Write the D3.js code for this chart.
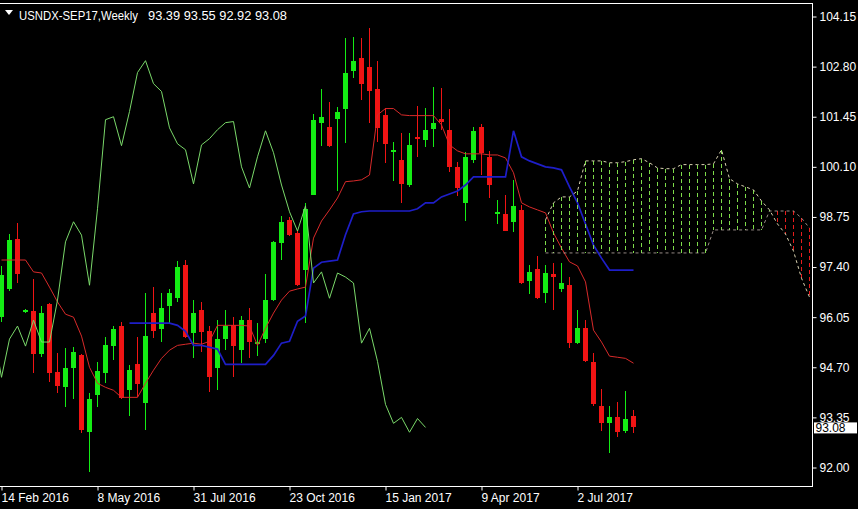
<!DOCTYPE html>
<html><head><meta charset="utf-8">
<script src="https://cdn.jsdelivr.net/npm/d3@7/dist/d3.min.js"></script>
<style>html,body{margin:0;padding:0;background:#000;overflow:hidden}</style>
</head><body><svg id="c" width="858" height="509"></svg>
<script>
// ---------- data ----------
const symbolText = "USNDX-SEP17,Weekly";
const ohlcText = "93.39 93.55 92.92 93.08";
const opens = [96.05,96.81,98.16,96.19,96.21,95.05,96.40,94.57,94.16,94.67,95.02,92.95,93.94,94.54,95.27,95.81,94.08,94.78,93.73,96.16,
  95.73,96.35,96.56,97.45,95.62,96.24,95.67,94.67,95.46,95.83,95.16,95.97,95.32,95.46,96.51,98.05,98.67,98.32,97.32,99.34,
  101.29,101.18,101.40,101.67,102.67,103.02,102.80,102.21,101.50,100.51,100.29,99.61,100.91,100.83,101.13,101.40,101.10,100.10,99.13,100.29,
  101.18,100.37,98.83,98.83,98.62,98.94,97.02,97.35,96.70,97.21,96.81,96.91,95.35,95.75,94.84,93.65,93.19,93.35,92.97,93.39];
const highs = [97.43,98.29,98.59,96.27,97.08,96.35,96.43,95.08,95.21,95.24,95.05,94.00,94.84,95.51,95.81,95.92,94.75,95.51,96.70,96.86,
  96.70,96.81,97.56,97.59,96.51,96.46,95.81,95.97,96.24,96.05,96.08,96.29,95.89,97.21,98.10,98.78,98.75,98.40,99.13,101.53,
  102.21,101.86,101.72,103.56,103.61,103.58,103.83,102.96,101.69,100.78,101.02,101.00,101.75,101.69,102.26,102.23,101.67,100.24,100.51,101.18,
  101.26,100.53,99.21,99.34,99.75,99.07,97.45,97.70,97.45,97.51,97.51,97.13,96.24,95.97,95.08,94.11,93.65,93.76,94.05,93.55];
const lows = [95.92,96.75,96.97,96.16,94.54,94.97,94.30,94.00,93.62,93.84,92.92,91.89,93.62,94.27,94.89,93.84,93.40,93.89,93.00,95.48,
  95.38,95.89,96.46,95.48,94.94,95.11,94.03,94.08,95.16,94.43,94.81,94.94,95.00,95.35,96.48,97.59,98.24,96.89,95.89,99.34,
  100.67,100.64,99.45,100.75,102.50,101.91,101.29,100.78,100.21,99.72,99.13,99.56,100.37,100.64,100.64,101.10,99.97,99.32,98.64,100.21,
  99.88,99.26,98.56,98.37,98.35,96.94,96.67,96.54,96.43,96.24,96.73,95.21,95.32,94.84,93.67,92.97,92.38,92.81,92.92,92.92];
const closes = [97.18,98.13,97.21,96.24,95.05,96.16,94.54,94.19,94.67,95.11,93.00,93.84,94.59,95.29,95.73,93.86,94.62,94.24,95.54,95.67,
  96.29,96.70,97.40,95.51,96.16,95.65,94.43,95.46,95.81,95.27,95.97,95.38,95.38,96.51,98.08,98.62,98.26,96.91,98.97,101.37,
  101.45,100.67,101.59,102.64,102.96,102.34,102.13,101.15,100.72,100.56,99.64,100.69,100.86,101.10,101.29,101.32,100.10,99.53,100.37,101.07,
  100.48,99.61,98.89,98.37,99.05,96.97,97.27,96.56,97.24,97.13,96.97,95.35,95.75,94.86,93.70,93.19,93.35,92.95,93.32,93.08];

// Ichimoku lines
const tenkan = [97.59,97.59,97.59,97.59,97.27,97.24,96.86,96.46,96.13,96.05,95.54,94.70,94.27,94.16,94.08,93.89,93.89,93.89,94.27,94.62,
  94.94,95.16,95.29,95.32,95.35,95.32,95.40,95.83,95.83,95.83,95.83,95.81,95.29,95.75,96.16,96.51,96.75,96.81,96.86,98.18,
  98.64,98.94,99.26,99.70,99.72,99.75,99.88,101.50,101.67,101.67,101.50,101.48,101.48,101.48,101.48,101.23,100.69,100.53,100.45,100.45,
  100.45,100.42,100.42,100.34,99.94,99.13,99.02,98.94,98.86,98.32,97.91,97.54,97.43,97.00,95.70,95.38,95.00,94.97,94.94,94.81];
const kijunStart = 16;
const kijun = [95.89,95.89,95.89,95.89,95.89,95.89,95.83,95.67,95.29,95.29,95.24,95.19,94.78,94.78,94.78,94.78,94.78,94.78,95.02,95.35,
  95.40,95.94,96.08,97.37,97.53,97.56,97.59,98.27,98.83,98.89,98.91,98.91,98.91,98.91,98.91,98.91,98.97,99.13,99.13,99.29,
  99.37,99.45,99.61,99.83,99.83,99.83,99.83,99.83,101.07,100.37,100.26,100.18,100.10,100.07,100.02,99.56,99.13,98.56,97.99,97.64,
  97.32,97.32,97.32,97.32];
const spanStart = 68;
const spanA = [98.67,99.13,99.29,99.29,99.45,100.26,100.26,100.26,100.21,100.21,100.24,100.29,100.32,100.21,100.07,100.05,100.05,100.16,100.16,100.16,
  100.16,100.18,100.56,99.78,99.64,99.56,99.48,99.18,98.94,98.56,98.29,97.83,97.10,96.59];
const spanB = [97.78,97.78,97.78,97.78,97.78,97.78,97.78,97.78,97.78,97.78,97.78,97.78,97.78,97.78,97.78,97.78,97.78,97.78,97.78,97.78,
  97.78,98.40,98.40,98.40,98.40,98.40,98.40,98.40,98.91,98.91,98.91,98.91,98.72,98.45];
const chikouShift = 26;

const dateTickIndex = [0,12,24,36,48,60,72];
const dateTickLabels = ["14 Feb 2016","8 May 2016","31 Jul 2016","23 Oct 2016","15 Jan 2017","9 Apr 2017","2 Jul 2017"];
const priceTicks = [92.00,93.35,94.70,96.05,97.40,98.75,100.10,101.45,102.80,104.15];
const lastPrice = 93.08;

// ---------- chart ----------
const svg = d3.select("#c");
const FRAME_R = 812.5, FRAME_T = 3.5, FRAME_B = 486.5;
const font = "'Liberation Sans', Arial, sans-serif";
const x = d3.scaleLinear().domain([0, 100]).range([1.5, 801.5]);
const y = d3.scaleLinear().domain([92.00, 104.15]).range([467.5, 16.5]);

svg.append("rect").attr("width", 858).attr("height", 509).attr("fill", "#000");
svg.append("defs").append("clipPath").attr("id", "plot")
  .append("rect").attr("x", 0).attr("y", 4).attr("width", 812).attr("height", 482);
const g = svg.append("g").attr("clip-path", "url(#plot)");

const bars = opens.map((o, i) => ({i, o, h: highs[i], l: lows[i], c: closes[i]}));
const bull = "#14ec14", bear = "#f01414";

// candles
const cg = g.append("g").attr("shape-rendering", "crispEdges");
cg.selectAll("line.w").data(bars).join("line").attr("class", "w")
  .attr("x1", d => x(d.i)).attr("x2", d => x(d.i))
  .attr("y1", d => y(d.h)).attr("y2", d => y(d.l))
  .attr("stroke", d => d.c >= d.o ? bull : bear).attr("stroke-width", 1);
cg.selectAll("rect.b").data(bars).join("rect").attr("class", "b")
  .attr("x", d => x(d.i) - 2.5).attr("width", 5)
  .attr("y", d => y(Math.max(d.o, d.c)))
  .attr("height", d => Math.max(1, Math.abs(y(d.o) - y(d.c))))
  .attr("fill", d => d.c >= d.o ? bull : bear);

// tenkan / kijun
const line = d3.line().x(d => x(d[0])).y(d => y(d[1]));
g.append("path").attr("d", line(tenkan.map((v, i) => [i, v])))
  .attr("fill", "none").attr("stroke", "#d82a2a").attr("stroke-width", 1);
g.append("path").attr("d", line(kijun.map((v, i) => [i + kijunStart, v])))
  .attr("fill", "none").attr("stroke", "#1e1ec8").attr("stroke-width", 1.7);

// cloud hatch: one dashed vertical line per week between span A and span B
const cloud = spanA.map((a, k) => ({j: k + spanStart, a, b: spanB[k]}));
const hg = g.append("g").attr("shape-rendering", "crispEdges");
cloud.forEach(d => {
  const top = Math.min(y(d.a), y(d.b)), bot = Math.max(y(d.a), y(d.b));
  const segs = d3.range(top, bot, 7).map(s => [s, Math.min(s + 4, bot)]);
  hg.selectAll(null).data(segs).join("rect")
    .attr("x", x(d.j) - 0.5).attr("width", 1)
    .attr("y", s => s[0]).attr("height", s => s[1] - s[0])
    .attr("fill", d.a >= d.b ? "#7edc4a" : "#e81c1c");
});

// chikou
g.append("path").attr("d", line(closes.map((c, k) => [k - chikouShift, c])))
  .attr("fill", "none").attr("stroke", "#7ad86a").attr("stroke-width", 1);

// span lines
g.append("path").attr("d", line(cloud.map(d => [d.j, d.a])))
  .attr("fill", "none").attr("stroke", "#d8d2b0").attr("stroke-width", 1).attr("stroke-dasharray", "3,3");
g.append("path").attr("d", line(cloud.map(d => [d.j, d.b])))
  .attr("fill", "none").attr("stroke", "#d8c8c0").attr("stroke-opacity", 0.7).attr("stroke-width", 1).attr("stroke-dasharray", "3,3");

// frame
const frame = svg.append("g").attr("stroke", "#fff").attr("stroke-width", 1).attr("shape-rendering", "crispEdges");
frame.append("line").attr("x1", 0).attr("x2", FRAME_R).attr("y1", FRAME_T).attr("y2", FRAME_T);
frame.append("line").attr("x1", FRAME_R).attr("x2", FRAME_R).attr("y1", FRAME_T).attr("y2", FRAME_B);
frame.append("line").attr("x1", 0).attr("x2", FRAME_R).attr("y1", FRAME_B).attr("y2", FRAME_B);

// price axis
const ya = svg.append("g").attr("transform", `translate(${FRAME_R},0)`)
  .call(d3.axisRight(y).tickValues(priceTicks).tickFormat(d3.format(".2f")).tickSize(4).tickPadding(3));
ya.select(".domain").remove();
ya.selectAll("line").attr("stroke", "#fff");
ya.selectAll("text").attr("fill", "#fff").style("font-family", font).style("font-size", "12px");

// last price label (covers the lower part of the 93.35 label, as in the reference)
svg.append("rect").attr("x", 814).attr("y", y(lastPrice) - 5).attr("width", 43).attr("height", 11).attr("fill", "#fff");
svg.append("text").attr("x", 815.5).attr("y", y(lastPrice) + 0.5).attr("dy", "0.35em")
  .attr("fill", "#000").style("font-family", font).style("font-size", "12px").text(d3.format(".2f")(lastPrice));

// date axis
const xa = svg.append("g").attr("transform", `translate(0,${FRAME_B})`)
  .call(d3.axisBottom(x).tickValues(dateTickIndex).tickFormat((d, k) => dateTickLabels[k]).tickSize(4).tickPadding(3));
xa.select(".domain").remove();
xa.selectAll("line").attr("stroke", "#fff");
xa.selectAll("text").attr("fill", "#fff").attr("text-anchor", "start").attr("dx", "-0.5")
  .style("font-family", font).style("font-size", "12px");

// header
svg.append("path").attr("d", "M5,10L13,10L9,15Z").attr("fill", "#fff");
svg.append("text").attr("x", 19).attr("y", 19.5).attr("fill", "#fff")
  .attr("textLength", 119).attr("lengthAdjust", "spacingAndGlyphs")
  .style("font-family", font).style("font-size", "12px").text(symbolText);
svg.append("text").attr("x", 148).attr("y", 19.5).attr("fill", "#fff")
  .attr("textLength", 139).attr("lengthAdjust", "spacingAndGlyphs")
  .style("font-family", font).style("font-size", "12px").text(ohlcText);
</script></body></html>
